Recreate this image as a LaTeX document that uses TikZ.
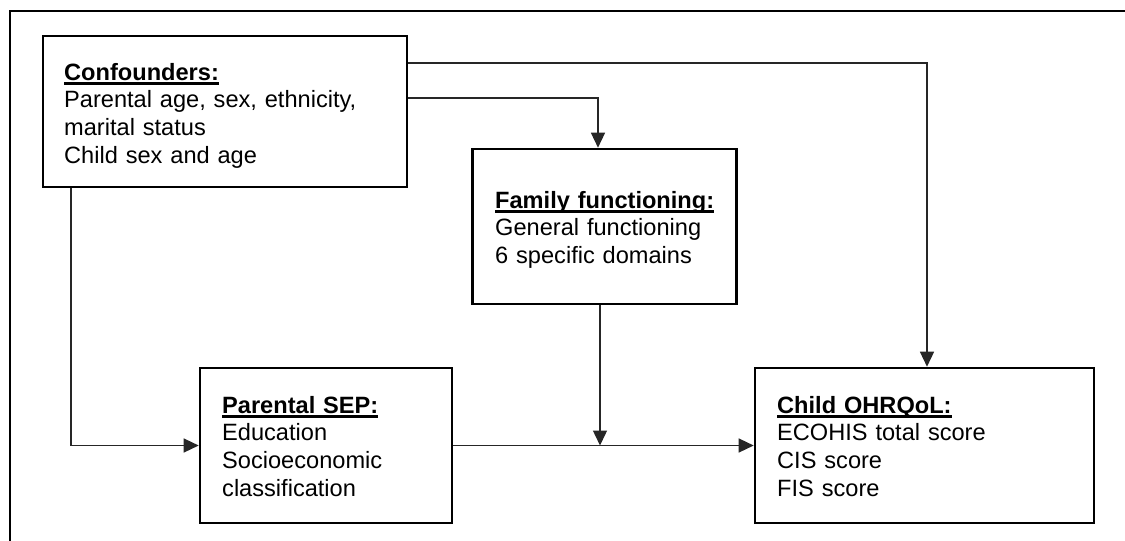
\documentclass[tikz,border=0pt]{standalone}
\usepackage{fontspec}
\setmainfont{Liberation Sans}
\usetikzlibrary{arrows.meta}

% bold heading with a fixed-depth underline that crosses descenders
\newcommand{\boxhead}[1]{\setbox0\hbox{\bfseries #1}\rlap{\rule[-4.5pt]{\wd0}{2.2pt}}\box0}

\tikzset{
  panel/.style={draw=black, line width=2.6pt, rectangle, inner sep=0pt},
  panelText/.style={anchor=base west, inner sep=0pt, align=left, text width=#1,
    font=\fontsize{23.6pt}{27.7pt}\selectfont},
  conn/.style={draw=black!85, line width=1.4pt,
    -{Triangle[length=15pt,width=14pt]}},
}

\begin{document}
\begin{tikzpicture}[x=1pt, y=-1pt]
  \useasboundingbox (0,0) rectangle (1125,541);

  % outer frame (only top and left edges fall inside the page)
  \draw[line width=2.8pt] (10,541) -- (10,11) -- (1125,11);

  % boxes
  \node[panel, minimum width=364pt, minimum height=151pt] (conf) at (225,111.5) {};
  \node[panel, minimum width=264pt, minimum height=155pt] (fam) at (604.7,226.5) {};
  \node[panel, minimum width=252pt, minimum height=155pt] (sep) at (326,445.5) {};
  \node[panel, minimum width=339pt, minimum height=155pt] (child) at (924.5,445.5) {};

  % box texts
  \node[panelText=340pt] (confText) at (64,80)
    {\boxhead{Confounders:}\\Parental age, sex, ethnicity,\\marital status\\Child sex and age};
  \node[panelText=240pt] (famText) at (495,208)
    {\boxhead{Family functioning:}\\General functioning\\6 specific domains};
  \node[panelText=225pt] (sepText) at (222,413)
    {\boxhead{Parental SEP:}\\Education\\Socioeconomic\\classification};
  \node[panelText=310pt] (childText) at (777,413)
    {\boxhead{Child OHRQoL:}\\ECOHIS total score\\CIS score\\FIS score};

  % connectors
  \coordinate (join) at (600,445.5);
  \draw[conn] (conf.north east |- 0,63) -| ([xshift=2.5pt]child.north);
  \draw[conn] (conf.north east |- 0,98) -| ([xshift=-6.7pt]fam.north);
  \draw[conn] (conf.south west -| 71,0) |- (sep.west);
  \draw[conn] (sep.east) -- (child.west);
  \draw[conn] (fam.south -| join) -- (join);
\end{tikzpicture}
\end{document}
